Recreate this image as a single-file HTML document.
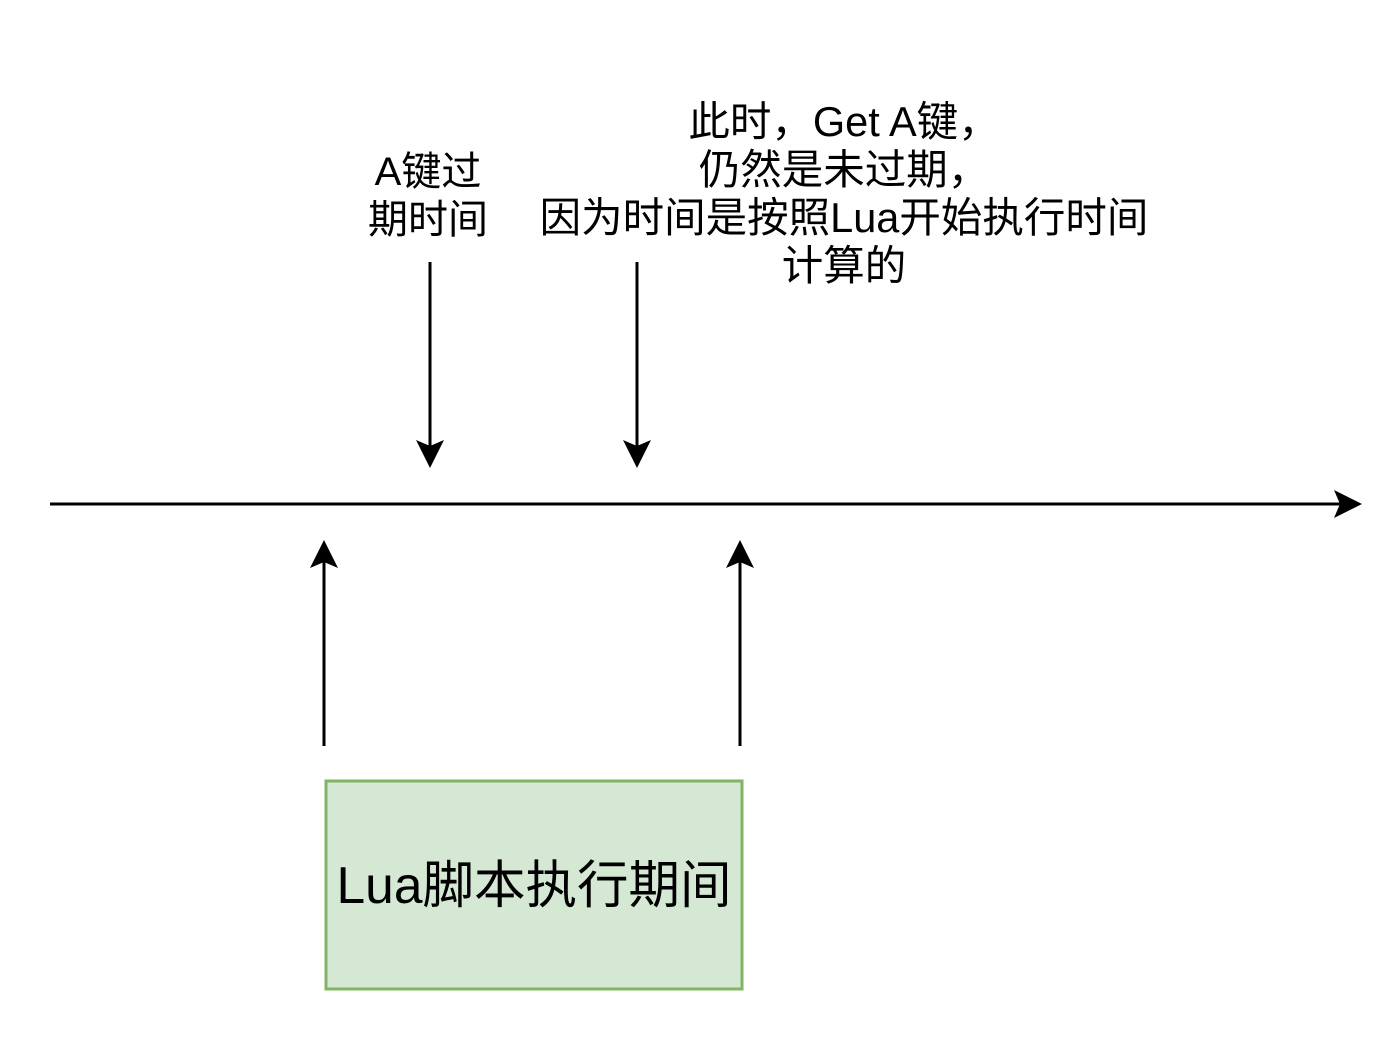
<!DOCTYPE html>
<html><head><meta charset="utf-8"><style>
body{margin:0;width:1400px;height:1056px;background:#fff;position:relative;overflow:hidden;font-family:"Liberation Sans","Noto Sans CJK SC",sans-serif;color:#000}
.t{position:absolute;text-align:center;font-size:41.5px;line-height:48px;white-space:nowrap}
</style></head><body>
<svg width="1400" height="1056" style="position:absolute;left:0;top:0">
<g stroke="#000" stroke-width="3" fill="none">
<line x1="50" y1="504" x2="1340" y2="504"/>
<line x1="430" y1="262" x2="430" y2="448"/>
<line x1="637" y1="262" x2="637" y2="448"/>
<line x1="324" y1="746" x2="324" y2="562"/>
<line x1="740" y1="746" x2="740" y2="562"/>
</g>
<g fill="#000">
<path d="M1362,504 L1334,490 L1340,504 L1334,518 Z"/>
<path d="M430,468 L416,440 L430,446 L444,440 Z"/>
<path d="M637,468 L623,440 L637,446 L651,440 Z"/>
<path d="M324,540 L310,568 L324,562 L338,568 Z"/>
<path d="M740,540 L726,568 L740,562 L754,568 Z"/>
</g>
<rect x="326" y="781" width="416" height="208" fill="#d5e8d4" stroke="#82b366" stroke-width="3"/>
</svg>
<div class="t" style="left:328px;width:200px;top:148px;font-size:40px">A键过<br>期时间</div>
<div class="t" style="left:444px;width:800px;top:98px">此时，Get A键，<br>仍然是未过期，<br>因为时间是按照Lua开始执行时间<br>计算的</div>
<div class="t" style="left:326px;width:416px;top:856px;font-size:51.5px;line-height:58px">Lua脚本执行期间</div>
</body></html>
